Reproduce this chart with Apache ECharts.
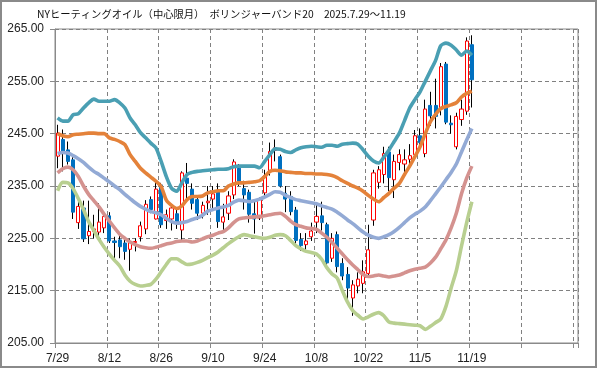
<!DOCTYPE html>
<html><head><meta charset="utf-8">
<script src="https://cdn.jsdelivr.net/npm/echarts@6/dist/echarts.min.js"></script>
<style>html,body{margin:0;padding:0;background:#fff}#c{width:599px;height:370px}</style>
</head><body><div id="c"></div>
<script>
const titleText = 'NYヒーティングオイル（中心限月）　ボリンジャーバンド20　2025.7.29～11.19';
const dates = ['7/29','7/30','7/31','8/1','8/4','8/5','8/6','8/7','8/8','8/11',
'8/12','8/13','8/14','8/15','8/18','8/19','8/20','8/21','8/22','8/25',
'8/26','8/27','8/28','8/29','9/2','9/3','9/4','9/5','9/8','9/9',
'9/10','9/11','9/12','9/15','9/16','9/17','9/18','9/19','9/22','9/23',
'9/24','9/25','9/26','9/29','9/30','10/1','10/2','10/3','10/6','10/7',
'10/8','10/9','10/10','10/13','10/14','10/15','10/16','10/17','10/20','10/21',
'10/22','10/23','10/24','10/27','10/28','10/29','10/30','10/31','11/3','11/4',
'11/5','11/6','11/7','11/10','11/11','11/12','11/13','11/14','11/17','11/18',
'11/19'];
const emptySlots = 20;
const yTicks = {min: 205, max: 265, step: 10};
const open = [240.7,243.9,241.9,240.0,228.0,230.8,225.5,226.3,226.2,227.0,
229.3,224.5,224.7,224.1,222.9,224.2,225.3,226.8,232.4,228.7,
235.2,228.4,228.7,229.7,226.6,236.5,234.4,232.4,229.8,231.8,
232.5,234.1,228.1,229.8,233.3,238.4,234.5,233.8,229.7,228.9,
233.7,237.8,241.8,240.6,233.6,233.0,230.4,224.8,223.8,225.3,
228.1,229.3,227.6,221.2,225.7,220.2,218.1,213.6,215.9,216.4,
218.3,228.5,235.7,237.2,241.5,236.2,239.5,239.2,240.1,241.0,
244.6,241.2,250.4,250.4,249.7,258.3,247.0,242.5,247.7,249.3,
262.0];
const close = [245.1,241.3,239.7,230.0,231.1,224.9,226.3,226.8,228.1,229.2,
224.5,224.2,223.4,222.5,224.3,224.4,227.4,231.5,230.5,234.4,
227.6,229.5,230.8,227.8,237.5,235.5,231.7,229.8,231.3,232.1,
233.5,228.2,229.1,233.1,239.6,235.9,233.3,229.6,228.7,232.4,
237.0,241.6,242.3,235.0,232.5,230.1,224.6,223.6,224.5,226.4,
229.2,228.0,220.3,225.0,219.6,217.8,215.5,216.1,217.2,218.6,
222.8,237.5,238.1,241.2,236.6,239.7,241.0,240.0,240.8,244.6,
243.3,249.7,248.4,248.3,257.8,247.2,246.7,248.3,249.7,262.7,
255.3];
const low = [238.4,237.8,239.1,228.7,226.8,224.3,223.9,225.0,224.7,226.0,
224.1,220.6,221.2,220.9,218.8,222.5,224.4,225.8,229.8,228.6,
227.0,226.8,226.5,226.8,224.5,232.5,230.5,228.5,228.8,229.5,
230.5,227.0,226.5,228.5,232.5,235.0,230.5,228.0,225.9,228.5,
233.0,237.0,239.7,234.7,230.0,229.4,224.0,222.6,222.8,224.5,
226.0,226.5,219.7,220.5,218.5,217.0,213.0,210.2,214.5,214.5,
217.7,227.4,234.5,235.5,234.0,232.7,238.0,237.0,238.5,240.0,
242.0,240.5,246.5,246.0,248.5,246.8,245.0,242.0,246.5,248.6,
250.0];
const high = [246.7,245.8,243.5,240.5,232.4,232.2,232.2,229.5,231.7,229.9,
230.0,225.3,225.5,225.0,225.0,225.0,228.2,232.3,233.0,236.2,
235.6,230.5,231.5,230.5,237.8,239.4,235.5,233.0,232.0,235.0,
235.0,235.5,231.6,234.0,240.1,239.2,236.0,234.3,232.0,232.8,
238.1,243.3,243.9,241.0,235.0,234.0,231.0,226.0,226.0,228.0,
231.5,232.0,228.0,226.0,226.3,221.2,219.5,217.0,218.5,220.8,
227.6,238.1,238.8,242.5,242.5,241.0,242.0,242.0,243.0,245.7,
246.0,251.5,253.0,255.5,258.5,258.7,248.5,249.0,251.5,263.4,
263.8];
const upper2 = [248.0,247.4,247.4,248.6,248.8,249.9,250.9,251.6,251.2,251.2,
251.2,251.5,250.9,249.9,248.0,246.7,245.2,244.2,243.2,242.3,
239.7,236.8,234.6,234.0,235.6,237.2,237.6,237.8,237.9,238.0,
238.1,238.2,238.2,238.3,238.7,238.8,238.8,238.8,238.8,238.5,
239.7,241.0,242.1,242.0,241.6,241.4,241.9,242.3,242.5,242.6,
242.5,242.4,242.8,242.8,242.6,243.0,243.1,243.2,243.0,241.9,
240.7,239.8,239.4,240.5,241.9,243.5,245.1,247.5,249.9,251.5,
253.0,255.0,257.0,259.0,261.8,262.3,261.9,261.0,260.0,260.8,
260.0];
const upper1 = [245.0,244.6,244.4,244.8,244.9,245.0,245.1,245.1,245.0,245.0,
244.2,243.9,243.5,242.9,241.0,239.7,238.4,237.5,236.7,235.9,
234.9,232.3,231.3,230.7,231.2,232.4,233.0,233.0,233.1,233.7,
233.9,234.1,234.1,235.0,235.4,235.6,235.6,235.7,235.8,236.0,
236.8,237.8,238.0,237.9,237.7,237.6,237.5,237.5,237.4,237.4,
237.3,237.3,237.2,237.0,236.6,236.0,235.5,235.0,234.6,234.0,
233.2,232.5,232.0,232.8,233.6,234.6,235.5,237.2,238.8,240.6,
242.5,245.0,247.3,248.7,249.8,250.2,250.5,250.9,252.0,252.7,
253.1];
const middle = [241.2,241.4,241.3,240.8,240.2,239.5,238.6,237.8,237.2,236.5,
235.8,235.0,234.3,233.4,232.6,231.8,231.1,230.6,230.1,229.9,
229.5,228.8,228.2,227.9,228.0,228.2,228.6,228.9,229.4,230.2,
230.5,230.8,231.0,231.3,231.9,232.3,232.2,232.0,232.2,232.5,
232.9,233.4,233.9,233.8,233.2,232.8,232.4,232.2,232.0,231.8,
231.6,231.2,230.9,230.6,230.0,229.3,228.5,227.8,227.0,226.2,
225.6,225.2,225.0,225.3,225.7,226.3,227.1,228.0,228.9,229.6,
230.2,231.0,232.2,233.5,234.8,236.2,237.6,239.2,241.5,243.8,
246.0];
const lower1 = [237.5,238.3,238.6,238.1,236.8,235.0,233.4,232.2,231.0,229.6,
228.3,227.0,225.8,225.0,224.3,223.8,223.4,223.2,223.1,223.3,
223.6,223.9,224.1,224.4,224.5,224.5,224.3,224.5,224.9,225.3,
225.6,226.0,226.3,227.0,228.0,228.7,228.9,229.0,229.1,229.2,
229.3,229.5,229.7,229.8,229.2,228.3,227.6,227.3,227.0,226.9,
226.7,226.0,225.2,224.2,223.1,222.0,220.9,219.9,219.0,218.1,
217.7,217.8,218.0,217.8,217.6,217.8,218.0,218.4,218.8,219.1,
219.3,219.5,220.3,221.4,223.0,224.7,227.0,229.8,233.5,236.5,
238.8];
const lower2 = [234.1,235.7,235.6,234.5,232.6,230.5,228.2,226.5,224.8,223.3,
222.0,220.8,219.7,218.0,216.8,216.2,215.9,216.0,216.2,217.2,
218.6,220.0,221.1,221.1,220.5,220.0,220.1,220.4,220.8,221.3,
221.8,222.4,223.2,224.0,224.7,225.3,225.7,225.5,225.3,225.1,
225.0,225.2,225.6,225.7,225.5,224.6,223.6,223.0,222.5,222.3,
222.0,221.0,219.4,218.2,217.4,215.0,212.8,211.2,210.3,209.6,
210.0,210.5,210.8,210.2,209.0,208.8,208.7,208.6,208.5,208.4,
208.3,207.6,208.2,208.9,209.6,212.0,215.5,218.8,223.5,228.0,
232.0];

const categories = dates.concat(new Array(emptySlots).fill(''));
const wickData = dates.map((d, i) => [low[i], high[i], low[i], high[i]]);
const bodyData = dates.map((d, i) => [open[i], close[i], Math.min(open[i], close[i]), Math.max(open[i], close[i])]);

const chart = echarts.init(document.getElementById('c'), null, {renderer: 'canvas'});
const lineSeries = (name, data, color) => ({
  name, type: 'line', data, showSymbol: false, symbol: 'none', smooth: 0.25,
  lineStyle: {color, width: 3.6}, z: 3, animation: false
});
chart.setOption({
  animation: false,
  backgroundColor: '#fff',
  title: {
    text: titleText, left: 37, top: 9, padding: 0,
    textStyle: {fontSize: 10.3, fontWeight: 'normal', color: '#111', fontFamily: '"Noto Sans CJK JP", sans-serif'}
  },
  graphic: [{type: 'rect', shape: {x: 1, y: 1, width: 595, height: 366}, style: {fill: 'none', stroke: '#8a8a8a', lineWidth: 2}, silent: true}],
  grid: {left: 55, right: 21, top: 29, bottom: 27, show: true, borderColor: '#8a8a8a', borderWidth: 1},
  xAxis: {
    type: 'category', data: categories, boundaryGap: true,
    axisLine: {show: true, lineStyle: {color: '#8a8a8a', width: 1}},
    axisTick: {show: true, interval: 9, length: 5, lineStyle: {color: '#8a8a8a'}},
    axisLabel: {interval: 9, margin: 10, fontSize: 12, color: '#222', fontFamily: '"Liberation Sans", Arial, sans-serif'},
    splitLine: {show: true, interval: 9, lineStyle: {color: '#808080', type: [4, 3], width: 1}}
  },
  yAxis: {
    type: 'value', min: yTicks.min, max: yTicks.max, interval: yTicks.step,
    axisLine: {show: true, lineStyle: {color: '#8a8a8a', width: 1}},
    axisTick: {show: true, length: 5, lineStyle: {color: '#8a8a8a'}},
    axisLabel: {margin: 11, fontSize: 12, color: '#222', fontFamily: '"Liberation Sans", Arial, sans-serif', formatter: v => v.toFixed(2)},
    splitLine: {show: true, lineStyle: {color: '#808080', type: [4, 3], width: 1}}
  },
  series: [
    {type: 'candlestick', data: wickData, barWidth: 0.5, z: 1,
     itemStyle: {color: '#000', color0: '#000', borderColor: '#000', borderColor0: '#000', borderWidth: 1}},
    {type: 'candlestick', data: bodyData, barWidth: 3.6, z: 2,
     itemStyle: {color: '#ffffff', color0: '#0070C0', borderColor: '#FF0000', borderColor0: '#0070C0', borderWidth: 1}},
    lineSeries('+2σ', upper2, '#4A9FB3'),
    lineSeries('+1σ', upper1, '#E4823A'),
    lineSeries('MA20', middle, '#93AAD5'),
    lineSeries('-1σ', lower1, '#D4928F'),
    lineSeries('-2σ', lower2, '#B8CF90')
  ]
});
</script></body></html>
